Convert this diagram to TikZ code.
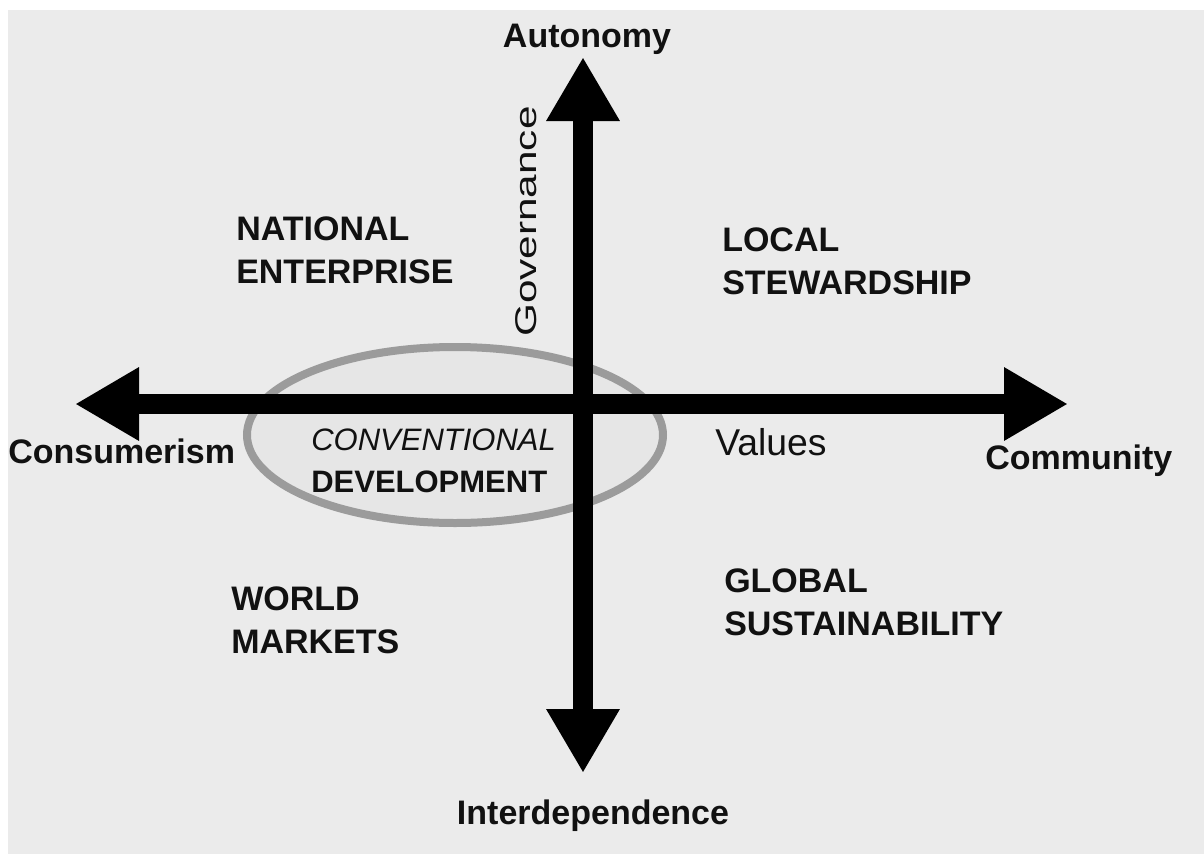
\documentclass[tikz,border=0pt]{standalone}
\usepackage{fontspec}
\setmainfont{Liberation Sans}
\usetikzlibrary{arrows.meta}
\definecolor{panel}{RGB}{235,235,235}
\definecolor{ringgray}{RGB}{155,155,155}
\definecolor{ringfill}{RGB}{230,230,230}
\definecolor{ink}{RGB}{17,17,17}

\begin{document}
\begin{tikzpicture}[x=0.75pt,y=-0.75pt,
  axis/.style={line width=14.6pt, draw=black,
    {Triangle[length=48pt,width=51.75pt]}-{Triangle[length=48pt,width=51.75pt]}},
  polelabel/.style={font=\fontsize{25.5}{30}\selectfont\bfseries, text=ink, inner sep=0pt},
  quadlabel/.style={font=\fontsize{25.5}{32.25}\selectfont\bfseries, text=ink,
    align=left, inner sep=0pt, anchor=base west},
  ring/.style={draw=ringgray, fill=ringfill, line width=6pt}]

  % page and panel
  \useasboundingbox (0,0) rectangle (1204,854);
  \fill[white] (0,0) rectangle (1204,854);
  \fill[panel] (8,10) rectangle (1204,854);

  % conventional development zone
  \draw[ring] (455,435) ellipse [x radius=208, y radius=88];

  % axis ends
  \coordinate (west) at (75,404);
  \coordinate (east) at (1068,404);
  \coordinate (north) at (583,57);
  \coordinate (south) at (583,773);

  \draw[axis] (west) -- (east);
  \draw[axis] (south) -- (north);

  % pole labels
  \node[polelabel, anchor=base] (autonomy) at (587,47) {Autonomy};
  \node[polelabel, anchor=base] (interdep) at (593,824) {Interdependence};
  \node[polelabel, anchor=base west] (consumerism) at (8,463) {Consumerism};
  \node[polelabel, anchor=base west] (community) at (985,469) {Community};

  % axis names
  \node[font=\fontsize{28}{32}\selectfont, text=ink, inner sep=0pt, anchor=base west]
    (values) at (715,455) {Values};
  \node[font=\fontsize{22.5}{26}\selectfont, text=ink, inner sep=0pt, rotate=90, anchor=base west]
    (governance) at (536,337) {\scalebox{1.41}[1]{Governance}};

  % quadrant labels (anchored at the baseline of their last line)
  \node[quadlabel] (national) at (236,283) {NATIONAL\\ENTERPRISE};
  \node[quadlabel] (local) at (722,294) {LOCAL\\STEWARDSHIP};
  \node[quadlabel] (world) at (231,653) {WORLD\\MARKETS};
  \node[quadlabel] (global) at (724,635) {GLOBAL\\SUSTAINABILITY};
  \node[font=\fontsize{23.25}{31.5}\selectfont, text=ink, align=left, inner sep=0pt, anchor=base west]
    (conventional) at (311,492) {{\itshape CONVENTIONAL}\\{\bfseries DEVELOPMENT}};
\end{tikzpicture}
\end{document}
